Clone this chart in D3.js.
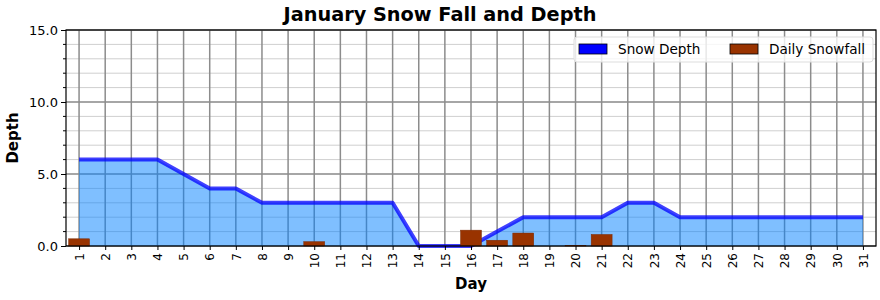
<!DOCTYPE html>
<html>
<head>
<meta charset="utf-8">
<script src="https://cdn.jsdelivr.net/npm/d3@7"></script>
<style>
body { margin: 0; background: #fff; }
text { font-family: "DejaVu Sans", sans-serif; }
</style>
</head>
<body>
<script>
// data
var days = d3.range(1, 32);
var snowDepth = [6, 6, 6, 6, 5, 4, 4, 3, 3, 3, 3, 3, 3, 0, 0, 0, 1, 2, 2, 2,
                 2, 3, 3, 2, 2, 2, 2, 2, 2, 2, 2];
var dailySnowfall = [0.5, 0, 0, 0, 0, 0, 0, 0, 0, 0.3, 0, 0, 0, 0, 0, 1.1, 0.4, 0.9, 0, 0.05,
                     0.8, 0, 0, 0, 0, 0, 0, 0, 0, 0, 0];
var yTicks = [0, 5, 10, 15];

var w = 880, h = 300;
var m = {top: 30, right: 4, bottom: 54, left: 66};

var svg = d3.select("body").append("svg")
    .attr("width", w)
    .attr("height", h);

var xScale = d3.scaleLinear()
    .domain([0.5, 31.5])
    .range([m.left, w - m.right]);

var yScale = d3.scaleLinear()
    .domain([0, 15])
    .range([h - m.bottom, m.top]);

var step = xScale(2) - xScale(1);

// minor horizontal grid
svg.append("g").selectAll("line")
    .data(d3.range(0, 16).filter(function(d) { return d % 5 !== 0; }))
    .enter().append("line")
    .attr("x1", m.left).attr("x2", w - m.right)
    .attr("y1", function(d) { return yScale(d); })
    .attr("y2", function(d) { return yScale(d); })
    .attr("stroke", "#cfcfcf")
    .attr("stroke-width", 1);

// major horizontal grid
svg.append("g").selectAll("line")
    .data(yTicks)
    .enter().append("line")
    .attr("x1", m.left).attr("x2", w - m.right)
    .attr("y1", function(d) { return yScale(d); })
    .attr("y2", function(d) { return yScale(d); })
    .attr("stroke", "#888")
    .attr("stroke-width", 1.5);

// vertical grid
svg.append("g").selectAll("line")
    .data(days)
    .enter().append("line")
    .attr("x1", function(d) { return xScale(d); })
    .attr("x2", function(d) { return xScale(d); })
    .attr("y1", m.top).attr("y2", h - m.bottom)
    .attr("stroke", "#8c8c8c")
    .attr("stroke-width", 1.5);

// snow depth area
var area = d3.area()
    .x(function(d, i) { return xScale(days[i]); })
    .y0(yScale(0))
    .y1(function(d) { return yScale(d); });

svg.append("path")
    .datum(snowDepth)
    .attr("d", area)
    .attr("fill", "#0080ff")
    .attr("fill-opacity", 0.5);

var line = d3.line()
    .x(function(d, i) { return xScale(days[i]); })
    .y(function(d) { return yScale(d); });

svg.append("path")
    .datum(snowDepth)
    .attr("d", line)
    .attr("fill", "none")
    .attr("stroke", "#0000ff")
    .attr("stroke-opacity", 0.75)
    .attr("stroke-width", 4)
    .attr("stroke-linejoin", "round");

// daily snowfall bars
var bw = step * 0.8;
svg.append("g").selectAll("rect")
    .data(dailySnowfall)
    .enter().append("rect")
    .attr("x", function(d, i) { return xScale(days[i]) - bw / 2; })
    .attr("y", function(d) { return yScale(d); })
    .attr("width", bw)
    .attr("height", function(d) { return yScale(0) - yScale(d); })
    .attr("fill", "#993300")
    .attr("stroke", "#7a2800")
    .attr("stroke-width", function(d) { return d > 0 ? 0.5 : 0; });

// axes
var xAxis = d3.axisBottom(xScale)
    .tickValues(days)
    .tickFormat(d3.format("d"))
    .tickSize(4);

var gx = svg.append("g")
    .attr("transform", "translate(0," + (h - m.bottom) + ")")
    .call(xAxis);
gx.select(".domain").remove();
gx.selectAll("text")
    .attr("transform", "rotate(-90)")
    .attr("text-anchor", "end")
    .attr("x", -7)
    .attr("y", 0)
    .attr("dy", "0.35em")
    .attr("font-size", "12px")
    .attr("fill", "#000");

var yAxis = d3.axisLeft(yScale)
    .tickValues(yTicks)
    .tickFormat(d3.format(".1f"))
    .tickSize(5);

var gy = svg.append("g")
    .attr("transform", "translate(" + m.left + ",0)")
    .call(yAxis);
gy.select(".domain").remove();
gy.selectAll("text")
    .attr("font-size", "13px")
    .attr("fill", "#000");

// minor y ticks
svg.append("g").selectAll("line")
    .data(d3.range(0, 16).filter(function(d) { return d % 5 !== 0; }))
    .enter().append("line")
    .attr("x1", m.left - 3).attr("x2", m.left)
    .attr("y1", function(d) { return yScale(d); })
    .attr("y2", function(d) { return yScale(d); })
    .attr("stroke", "#000");

// frame
svg.append("rect")
    .attr("x", m.left).attr("y", m.top)
    .attr("width", w - m.right - m.left)
    .attr("height", h - m.bottom - m.top)
    .attr("fill", "none")
    .attr("stroke", "#000")
    .attr("stroke-width", 1.2);

// title and labels
svg.append("text")
    .attr("x", w / 2)
    .attr("y", 21)
    .attr("text-anchor", "middle")
    .attr("font-size", "19.3px")
    .attr("font-weight", "bold")
    .text("January Snow Fall and Depth");

svg.append("text")
    .attr("x", (m.left + w - m.right) / 2)
    .attr("y", 289)
    .attr("text-anchor", "middle")
    .attr("font-size", "15px")
    .attr("font-weight", "bold")
    .text("Day");

svg.append("text")
    .attr("transform", "translate(18," + ((m.top + h - m.bottom) / 2) + ") rotate(-90)")
    .attr("text-anchor", "middle")
    .attr("font-size", "15px")
    .attr("font-weight", "bold")
    .text("Depth");

// legend
var legend = svg.append("g").attr("transform", "translate(574,37)");
legend.append("rect")
    .attr("width", 299).attr("height", 25)
    .attr("rx", 3)
    .attr("fill", "#fff")
    .attr("fill-opacity", 0.8)
    .attr("stroke", "#ddd");

var items = [
    {label: "Snow Depth", color: "#0000ff", x: 5},
    {label: "Daily Snowfall", color: "#993300", x: 156}
];
var li = legend.selectAll("g.item")
    .data(items)
    .enter().append("g")
    .attr("transform", function(d) { return "translate(" + d.x + ",7)"; });
li.append("rect")
    .attr("width", 28).attr("height", 10)
    .attr("fill", function(d) { return d.color; })
    .attr("stroke", "#000")
    .attr("stroke-width", 0.8);
li.append("text")
    .attr("x", 39).attr("y", 5)
    .attr("dy", "0.35em")
    .attr("font-size", "13.6px")
    .text(function(d) { return d.label; });
</script>
</body>
</html>
